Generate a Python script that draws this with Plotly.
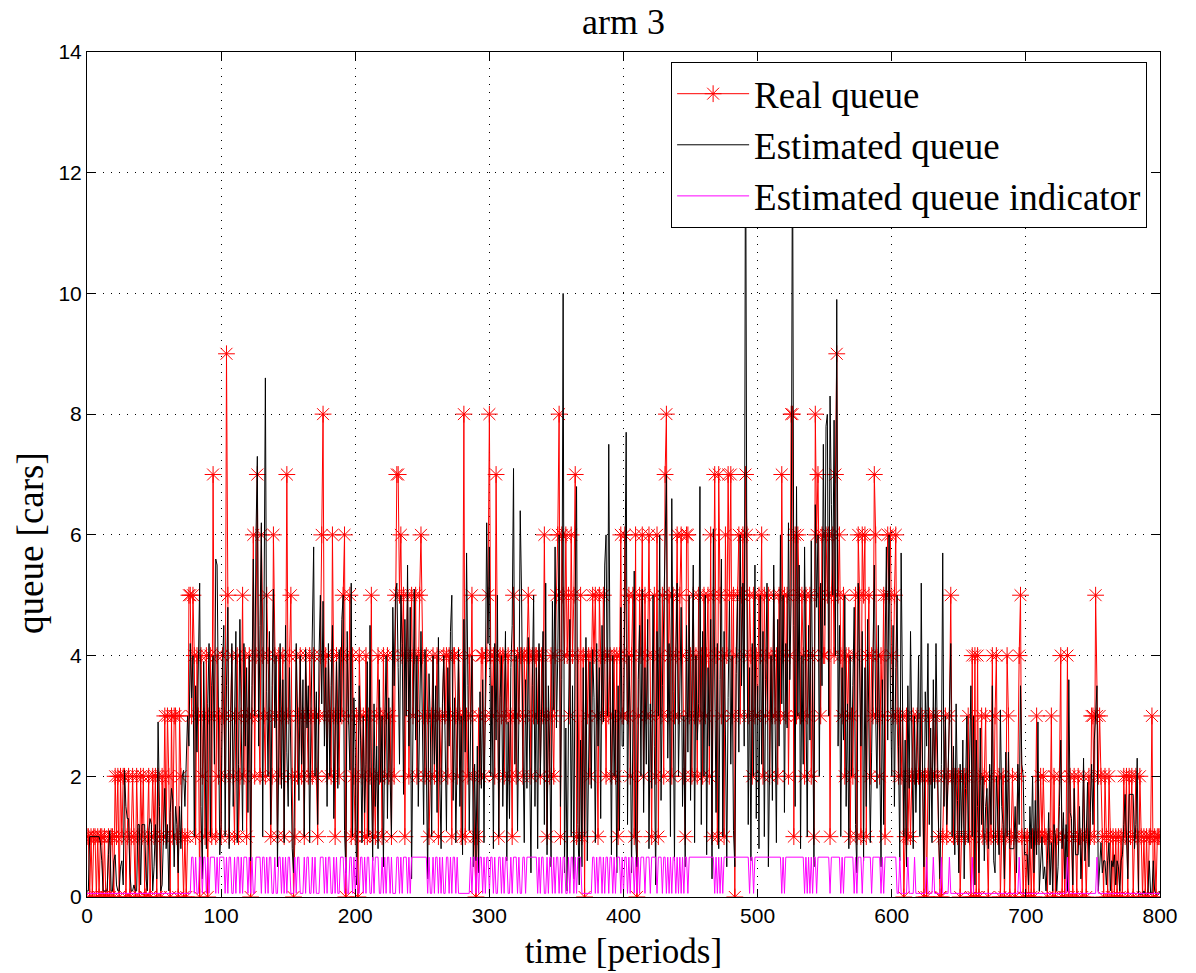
import plotly.graph_objects as go

# ---------------- data ----------------
real_000 = [1,1,0,1,0,1,1,0,1,0, 1,1,0,1,0,0,1,0,1,1, 0, 2,1,2,0,2,1,2,2,0, 1,2,0,1,2,1,0,2,1,0, 2,1,2,0,0,1,2,0,1,2]
real_050 = [1,2,0,2,1,0,2,1, 3,1,3,2,0,3,1,3,3,1,0,3,2,1,0,1, 0,1,5,5, 3,5,4, 1,4,3,0,4,2,3,1,4,0,3,4,1, 7, 3,1,4,2,3]
real_100 = [1,4,3,2, 9, 5, 1,3,4,2,1,3,4,1,2,3, 5, 2,4,1,3,4, 0, 3, 6, 2,4, 7, 3,2, 6, 4,3,2,5,4,3,1,2, 6, 4,3,1,4,2,3,4,1,3, 7]
real_150 = [3,4, 5, 2, 0, 1, 4,2,3,4,2,3,1,4,3,2,4,3,2,4,3,2, 1, 3,4, 6, 8, 3,4,2,4,3,2, 6, 3, 1, 4,3,2,4,3,5, 6, 0, 4,3, 5, 1,4,2]
real_200 = [1, 3, 0, 4,3,2,3, 1,4,1,3,2, 5, 1,2,1,3,4,2,3,1,4,2,3,4,2,3, 1, 4,2,5, 7, 7, 5, 6, 4,5, 1, 4,5,2,4,5,3,4,5,2,4,5, 6]
real_250 = [4,3,2,4,3,1,2,3,4,2,3,4,1,3,2, 3,4,3,4,2,4,3,1,4,4, 3,2,4,3,1,3, 8, 1,3,2,4,3, 5, 2,1, 0, 1,3,2,4,4,2,3,4, 5]
real_300 = [8, 4,3,4,2, 7, 4, 1, 4,3,4,2,4,3,4,2,3, 1, 5, 3,2,4,3,4,4,2,4,3,4, 5, 4,2,4,3,4,4,3,4,2,4,3, 6, 3, 1, 3,2,4,3,2,4]
real_350 = [5,6, 8, 1, 6,5,4,6, 4,5,3,6,4,5, 7, 1,4,1,5,1, 4, 0, 4,3,4,2,4, 5,4,5,3, 1, 5,4,3,5,4,2,4,3, 4,2,3,4,2,4, 1, 4, 6, 3]
real_400 = [3, 6, 4,3,5,2,4,5,1, 6, 0, 3,5,4, 6, 2,5,3,4, 6, 3, 1, 4,5,2, 6, 1, 4,3,5,2, 7, 8, 3,5,4,2,5,3,4, 6, 3,5, 6, 4,2, 1, 6, 6, 3]
real_450 = [4,2,5,3,4, 2,5,3,4,2,5, 3,4,5,2, 6, 1, 5, 7, 4, 1, 7, 5,3,4, 1, 6, 4, 7, 5, 7, 3,5, 0, 4,5, 6, 3,5, 6, 4, 7, 6, 3,5,4,2,5,3,4]
real_500 = [3,5,4, 6, 2,5,3,4, 5,2,4,3,5, 3,4,2,5,3, 7, 4,5,3,5,2,4, 8, 8, 1, 6,3,6,5, 3,5,4,2,5,3,4,5,2,4, 1, 8, 6, 7, 5,3,6,4]
real_550 = [4, 6, 5, 6, 1, 5,6,4, 7, 9, 5, 6, 4,3,5,2,4,3,4, 1, 3,2,4, 5, 1, 6, 5, 1, 6, 5, 6, 1, 4,5,2,4,3, 7, 6, 3,4,2,4,3,5, 1, 5, 6, 5, 6]
real_600 = [4,3,5, 6, 3,2,3,2,3, 0, 1,3,1,2,1, 2,3,2,2,3,2,2,3,2, 0, 2, 0, 2,3,2,2,3,2,3,2,1, 0, 0, 1, 2,3,1,2,3, 5, 2,1,2,2,1]
real_650 = [2, 0, 1,2,2,1,2, 3, 1, 0, 4, 0, 4, 0, 4, 0, 2, 3, 1,2, 3, 1,0,2,1, 4, 1, 3, 4, 1, 2,0,1,2,0,1, 4, 3, 0, 1,2,1,0,1,2, 4, 5, 1,0,1]
real_700 = [0,1,0,1,0,1,0,1, 3, 1,1, 2, 1,2,1,1, 0, 1,1, 3, 0, 2, 0,1, 1,2, 4, 0,1,0,1, 4, 0,2,1,0,2,1,0,2,1,1,0,2,1,0,1,2,1,3]
real_750 = [3,1,5,3,2,3,2,1, 0,2,1,0,2,1, 0,1,0,1,0,1,0,1,0, 2,1,2,0,2,1,2,0,1,2,1,0,2,1,0, 1,0,1,0,1,1, 3, 0,1,0,1,1, 1]

est_000 = [0.1,0.1,1.0,1.0,1.0,1.0,1.0,1.0,1.0,1.0,0.9,0.6, 0.1,0.1,0.1,0.1,0.7,1.1,0.1,0.1, 0.6,0.7,0.2,0.1,0.1,0.5,0.6,0.2, 2.1,1.5,1.3,1.3,0.4, 0.1,0.1,0.2,0.1,0.1, 1.2,1.2,0.2,1.2,1.2,1.2,0.3,0.1,1.1,1.3,1.2,0.1]
est_050 = [0.5,1.2,0.3,2.9,1.5,0.1,0.2,1.0, 1.8,0.8,1.2,0.1,1.4,1.8,1.6,0.5, 1.5,1.2,0.4,1.5,0.8,2.0,2.1,1.5, 2.1,3.0,2.5,4.2,3.3,4.0,1.0,3.5, 2.4,4.0,5.2,1.5,0.3,3.9,2.5,0.8, 3.2,4.2,1.0,3.5,4.0,2.2,5.6,5.5,3.1,0.7]
est_100 = [1.2,3.8,4.5,1.0,3.5,4.8,0.8,2.6,4.2,1.5, 3.4,4.4,0.9,2.2,4.6,3.0,1.1,4.2,2.5,3.8, 1.4,4.0,0.6,3.5,5.6,3.0,6.0,7.3,2.5,4.5, 6.2,1.0,5.0,8.6,3.4,2.0,4.4,1.2,3.5,5.1, 2.8,4.0,0.5,3.0,4.2,1.8,3.6,0.9,4.5,2.4]
est_150 = [1.5,3.8,2.3,0.8,0.4,2.5,4.2,3.0,1.6,4.0, 2.2,3.6,1.0,4.1,2.8,3.5,0.9,3.0,4.3,5.8, 2.0,3.4,1.2,4.0,5.0,3.2,4.9,2.5,3.8,1.5, 4.2,2.0,3.5,4.5,1.3,2.6,3.9,1.8,4.1,2.9, 4.6,5.0,1.1,0.4,4.4,3.0,2.1,5.2,1.0,3.3]
est_200 = [2.4,0.2,1.8,3.5,2.6,0.9,3.0,1.4,2.2,3.9, 1.0,4.5,2.0,0.6,3.2,1.5,2.5,0.8,3.6,1.9, 3.0,0.5,2.8,4.0,1.3,3.3,2.0,1.0,4.8,3.5, 5.0,5.2,3.8,2.2,5.0,4.2,1.7,4.6,3.0,5.5, 2.5,4.8,0.3,3.4,5.1,2.6,4.0,1.5,3.2,4.4]
est_250 = [3.0,1.2,4.1,2.5,0.3,3.7,2.8,1.0,4.0,2.2, 3.5,1.4,4.3,2.0,0.8,3.2,4.0,2.6,1.1,3.8, 2.5,4.4,5.0,1.6,3.3,0.9,2.7,4.1,1.5,3.0, 0.7,4.6,2.4,5.7,3.5,1.1,2.8,4.0,0.5,2.2, 0.6,2.5,0.4,3.4,1.8,3.6,0.9,3.0,6.2,4.2]
est_300 = [5.8,2.0,3.5,0.8,4.2,2.6,5.0,1.0,3.3,4.0, 1.5,3.0,4.4,0.6,2.9,1.3,3.8,4.5,7.1,2.2, 4.0,1.1,3.0,6.4,5.0,2.5,0.9,3.6,1.8,4.3, 2.4,0.4,3.5,5.0,1.5,3.8,0.8,4.2,2.0,3.0, 4.4,1.2,5.2,0.7,3.5,2.4,0.5,4.9,3.1,5.8]
est_350 = [2.8,4.0,6.0,1.5,3.6,10.0,0.4,2.8,0.1,3.0, 4.6,1.0,3.5,0.3,5.0,6.8,1.2,0.2,2.6,0.5, 3.8,1.0,4.3,0.6,2.7,3.9,1.8,4.1,3.3,0.9, 4.2,2.5,3.8,1.3,4.5,2.9,5.5,6.0,3.0,7.5, 3.6,0.7,4.0,2.0,3.1,0.4,3.5,1.1,4.8,2.5]
est_400 = [2.5,5.0,7.7,1.2,4.0,3.0,0.4,2.8,5.4,1.0, 0.5,3.6,4.5,2.0,5.1,1.4,3.8,2.2,4.6,0.8, 3.2,1.8,5.0,2.5,0.2,4.4,3.0,6.0,1.6,3.5, 4.8,5.5,7.0,2.3,4.2,1.0,6.6,3.4,0.6,4.0, 5.2,2.0,3.6,4.8,1.5,3.0,0.5,4.5,2.4,5.0]
est_450 = [1.6,3.5,5.5,0.9,4.0,2.6,3.2,6.8,1.2,4.4, 2.0,5.0,0.7,3.8,2.5,4.6,0.3,6.1,3.0,1.4, 4.2,0.8,3.6,5.6,1.0,4.4,2.7,0.5,3.3,4.9, 2.2,4.0,1.1,0.5,3.7,5.0,2.4,6.0,3.5,5.2, 2.5,13.5,5.0,1.2,3.8,0.6,4.2,2.0,5.5,1.3]
est_500 = [3.5,0.8,5.0,2.2,4.4,1.0,3.6,5.2,0.5,2.8, 4.0,1.6,5.5,3.0,0.9,4.6,2.5,6.0,3.2,5.0, 1.4,4.2,2.8,6.2,3.6,5.0,13.0,4.5,1.5,6.8, 3.0,5.5,0.8,4.0,2.2,5.8,3.4,1.0,4.5,2.6, 5.9,3.0,0.5,6.5,4.8,6.0,2.0,5.2,3.5,7.5]
est_550 = [4.5,7.8,8.0,3.0,8.3,6.5,5.0,7.9,4.0,9.9, 2.5,4.5,1.0,3.8,2.6,5.0,1.5,3.2,0.8,4.0, 2.0,3.5,4.8,1.2,0.4,5.2,3.6,2.5,4.4,0.6, 3.8,1.5,4.6,3.0,0.9,2.4,4.2,5.5,3.0,1.8, 4.5,2.2,0.5,3.6,1.2,4.0,5.8,2.6,6.0,3.5]
est_600 = [2.0,4.5,1.5,3.8,5.0,2.5,0.6,5.7,3.0,1.0, 2.6,0.5,3.5,1.8,4.4,2.2,0.8,3.0,1.4,2.5, 4.0,1.0,5.2,2.0,0.5,3.4,2.5,4.2,1.2,2.8, 0.9,3.6,1.8,4.2,2.4,1.0,0.3,2.2,5.7,1.5, 3.0,1.2,2.0,3.5,4.2,1.0,2.5,0.7,3.2,1.6]
est_650 = [0.4,2.2,1.0,2.6,0.3,1.8,3.0,0.9,2.2,3.5, 1.0,3.0,0.2,2.6,1.5,0.4,2.8,1.2,2.0,0.6, 1.5,1.8,0.8,2.2,1.2,3.5,0.6,0.4,2.0,1.4, 0.7,3.1,1.5,1.2,0.3,2.4,1.0,2.4,0.8,0.8, 0.8,0.8,1.5,0.4,2.2,1.2,3.5,2.2,2.0,0.7]
est_700 = [0.7,0.7,0.2,1.5,0.8,2.0,0.4,1.6,0.7,2.9, 0.1,0.6,1.0,0.3,0.5,0.1,0.6,1.4,0.2,0.9, 0.1,1.2,1.0,0.1,0.5,1.5,2.6,0.8,1.4,0.3, 1.2,0.1,3.6,1.4,1.3,0.2,1.8,0.7,0.7,0.7, 1.5,0.3,0.9,2.3,0.6,1.0,1.9,0.5,1.4,2.2]
est_750 = [1.2,2.6,3.0,3.5,0.1,0.6,0.9,0.4,0.6,0.6, 0.2,0.6,0.9,0.1,0.6,0.5,0.7,0.2,0.6,0.5, 0.1,0.6,0.7,1.2,1.7,1.0,0.3,1.7,1.7,1.7, 1.7,0.8,1.2,2.3,0.05,0.05,0.05,0.05,0.1,0.05, 0.05,0.05,0.6,0.05,0.05,0.6,0.1,0.05,0.05,0.05, 0.1]

# indicator state: 0 = low level, 1 = high level
ind_000 = [0,0,0,0,0,0,0,0,0,0, 0,0,0,0,0,0,0,0,0,0, 0,0,0,0,0,0,0,0,0,0, 0,0,0,0,0,0,0,0,0,0, 0,0,0,0,0,0,0,0,0,0]
ind_050 = [0,0,0,0,0,0,0,0,0,0, 0,0,0,0,0,0,0,0,0,0, 0,0,0,0,0,0,0,0,1,1, 0,1,0,0,1,1,0,1,1,0, 1,0,1,1,1,1,0,1,0,1]
ind_100 = [1,1,1,0,1,0,1,1,0,0, 1,0,1,1,0,1,0,1,1,1, 0,1,0,1,0,0,1,1,1,1, 0,1,1,0,1,0,1,1,0,0, 1,0,0,1,1,0,1,0,1,0]
ind_150 = [1,1,0,0,0,1,0,1,1,0, 0,0,1,0,1,1,0,0,1,0, 1,0,0,0,1,1,1,0,1,0, 1,1,0,0,1,0,1,0,0,1, 1,1,0,1,0,0,1,1,0,1]
ind_200 = [0,1,0,0,1,1,0,1,0,1, 1,0,0,1,0,1,1,1,0,0, 1,0,1,0,1,1,0,1,0,0, 0,1,1,0,1,0,1,1,1,0, 1,0,1,1,1,1,1,1,1,1]
ind_250 = [1,1,1,1,0,1,0,0,1,0, 1,1,0,1,0,1,0,0,1,1, 0,1,0,1,1,0,1,0,0,0, 0,0,0,0,0,0,1,0,1,1, 0,1,0,1,1,0,1,0,1,1]
ind_300 = [0,1,1,0,1,0,0,1,1,0, 1,0,1,1,0,0,1,0,1,1, 1,0,1,0,0,1,1,0,1,1, 1,1,1,1,1,1,0,1,0,1, 1,0,0,1,0,1,1,0,1,0]
ind_350 = [1,1,0,1,0,1,1,0,0,1, 0,1,1,0,1,0,1,1,1,0, 0,0,0,0,0,0,0,1,1,0, 1,0,1,1,0,1,0,1,1,0, 1,1,0,1,0,1,1,1,0,1]
ind_400 = [0,1,1,0,1,0,1,1,0,1, 0,1,0,1,1,1,0,1,1,1, 0,1,1,1,1,0,1,1,1,0, 1,1,0,1,0,1,0,1,1,0, 1,0,1,0,1,0,1,1,0,1]
ind_450 = [1,1,1,1,1,1,1,1,1,1, 1,1,1,1,1,1,1,1,0,1, 0,1,0,1,0,1,1,1,1,1, 1,1,1,1,1,1,1,1,1,1, 1,1,1,1,0,1,1,0,1,1]
ind_500 = [1,1,1,1,1,1,1,1,1,1, 1,1,1,1,1,1,1,1,0,1, 0,1,1,1,1,1,1,1,1,1, 1,1,1,1,1,0,1,0,1,0, 1,0,1,1,0,1,1,1,1,1]
ind_550 = [1,1,1,1,0,1,1,1,1,1, 1,1,0,1,0,1,1,1,1,1, 1,1,0,1,0,1,1,1,0,1, 1,1,1,1,1,0,1,1,1,1, 1,1,0,1,0,1,1,1,1,1]
ind_600 = [1,1,1,1,0,0,1,0,0,0, 0,0,1,0,0,0,0,1,0,0, 0,0,0,0,0,0,1,0,0,0, 0,1,0,0,0,0,0,1,0,0, 0,0,0,1,0,0,0,0,0,0]
ind_650 = [0,0,0,0,0,0,0,0,0,0, 1,0,0,0,0,0,0,0,0,0, 0,0,0,0,0,0,0,0,0,0, 0,0,0,0,0,0,0,0,0,0, 0,0,0,0,0,1,0,0,0,0]
ind_700 = [0,0,0,0,0,0,0,0,0,0, 0,0,0,0,0,0,0,0,0,0, 0,0,0,0,0,0,0,0,0,0, 0,1,0,0,0,0,0,0,0,0, 0,0,0,0,0,0,0,0,0,0]
ind_750 = [0,0,0,1,0,0,0,0,0,0, 0,0,0,0,0,0,0,0,0,0, 0,0,0,0,0,0,0,0,0,0, 0,0,0,0,0,0,0,0,0,0, 0,0,0,0,0,0,0,0,0,0, 0]
indicator_levels = {0: 0.06, 1: 0.66}

x_ticks = [0, 100, 200, 300, 400, 500, 600, 700, 800]
y_ticks = [0, 2, 4, 6, 8, 10, 12, 14]

# ---------------- assemble ----------------
real_queue = (real_000 + real_050 + real_100 + real_150 + real_200 + real_250 + real_300 + real_350 +
              real_400 + real_450 + real_500 + real_550 + real_600 + real_650 + real_700 + real_750)
est_queue = (est_000 + est_050 + est_100 + est_150 + est_200 + est_250 + est_300 + est_350 +
             est_400 + est_450 + est_500 + est_550 + est_600 + est_650 + est_700 + est_750)
ind_state = (ind_000 + ind_050 + ind_100 + ind_150 + ind_200 + ind_250 + ind_300 + ind_350 +
             ind_400 + ind_450 + ind_500 + ind_550 + ind_600 + ind_650 + ind_700 + ind_750)
indicator = [indicator_levels[s] for s in ind_state]

SERIF = "Liberation Serif, Times New Roman, serif"
SANS = "Liberation Sans, Arial, sans-serif"

fig = go.Figure()
fig.add_trace(go.Scatter(
    x=list(range(len(real_queue))), y=real_queue, mode="lines+markers", name="Real queue",
    line=dict(color="#ff0000", width=1),
    marker=dict(symbol="asterisk-open", size=14, color="#ff0000", line=dict(color="#ff0000", width=1)),
))
fig.add_trace(go.Scatter(
    x=list(range(len(est_queue))), y=est_queue, mode="lines", name="Estimated queue",
    line=dict(color="#000000", width=1),
))
fig.add_trace(go.Scatter(
    x=list(range(len(indicator))), y=indicator, mode="lines", name="Estimated queue indicator",
    line=dict(color="#ff00ff", width=1),
))

axis_common = dict(
    showline=True, linecolor="black", linewidth=1, mirror="allticks",
    ticks="inside", ticklen=8, tickcolor="black", tickwidth=1,
    showgrid=True, gridcolor="black", gridwidth=1, griddash="1px,7px",
    zeroline=False, automargin=False,
    tickfont=dict(family=SANS, size=21, color="black"),
)

FIG_W, FIG_H = 1196, 973
ML, MR, MT, MB = 87, 36, 52, 76
plot_w = FIG_W - ML - MR
plot_h = FIG_H - MT - MB

fig.update_layout(
    width=FIG_W, height=FIG_H,
    margin=dict(l=ML, r=MR, t=MT, b=MB, autoexpand=False),
    paper_bgcolor="white", plot_bgcolor="white",
    title=dict(text="arm 3", x=0.5, xref="paper", xanchor="center",
               y=1 - 21 / FIG_H, yref="container", yanchor="middle",
               font=dict(family=SERIF, size=36, color="black")),
    legend=dict(x=0.988, y=0.988, xanchor="right", yanchor="top",
                bgcolor="white", bordercolor="black", borderwidth=1,
                font=dict(family=SERIF, size=37, color="black"),
                tracegroupgap=0, itemwidth=72),
    showlegend=True,
    annotations=[dict(
        text="queue [cars]", textangle=-90, showarrow=False,
        xref="paper", yref="paper",
        x=(30 - ML) / plot_w, y=1 - (543 - MT) / plot_h,
        xanchor="center", yanchor="middle",
        font=dict(family=SERIF, size=37, color="black"),
    )],
)
fig.update_xaxes(range=[0, 800], tickvals=x_ticks, ticktext=[str(v) for v in x_ticks],
                 title=dict(text="time [periods]", font=dict(family=SERIF, size=35, color="black"), standoff=12),
                 **axis_common)
fig.update_yaxes(range=[0, 14], tickvals=y_ticks, ticktext=[str(v) for v in y_ticks],
                 **axis_common)

# remove the default 8 px page margin so the figure fills the window exactly
fig.write_html("out.html", config={"displayModeBar": False},
               post_script="document.body.style.margin='0px';")
